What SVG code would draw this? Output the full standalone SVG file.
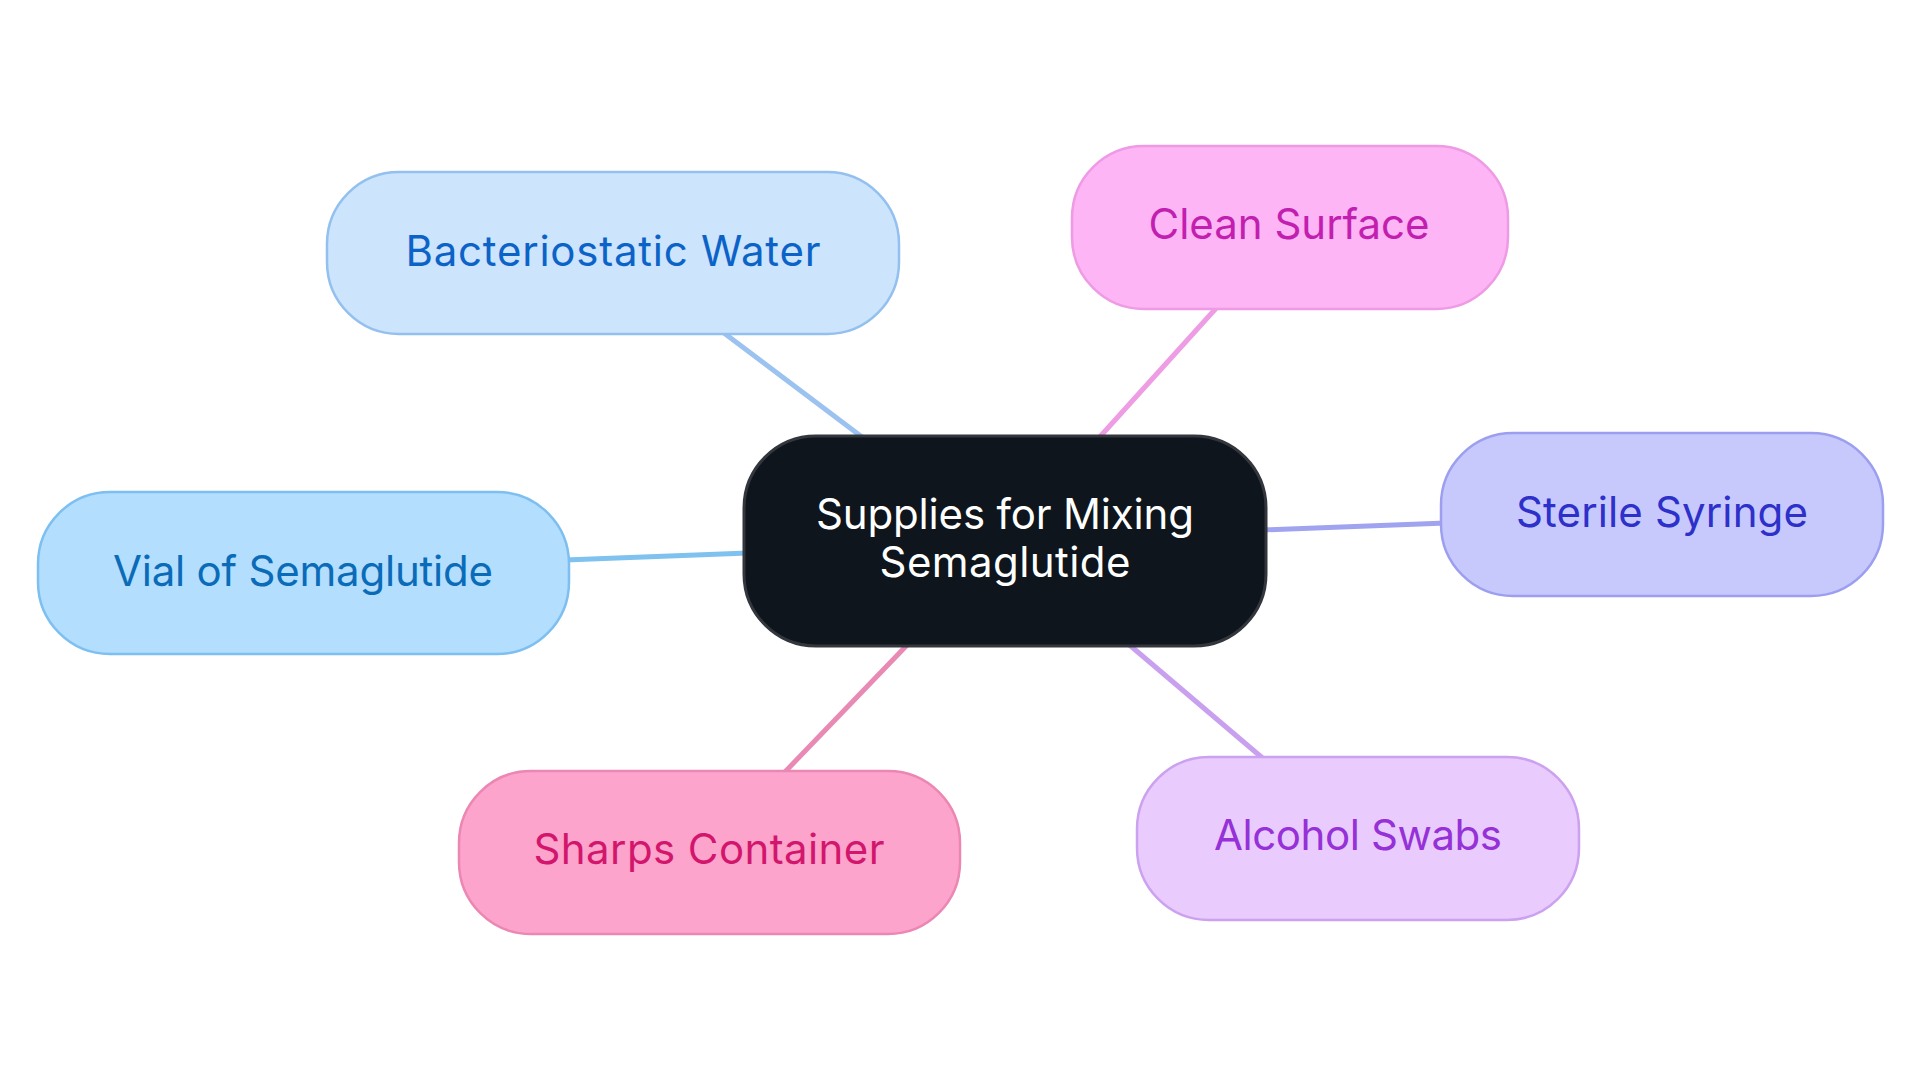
<svg xmlns="http://www.w3.org/2000/svg" width="1920" height="1083" viewBox="0 0 1920 1083">
<style>
.lbl{font-family:Inter,"Noto Sans","Liberation Sans",sans-serif;font-size:42px;text-anchor:middle}
.edge{stroke-width:5;fill:none;stroke-linecap:round}
.node{stroke-width:2.5}
</style>
<rect width="1920" height="1083" fill="#ffffff"/>
<g id="connectors">
<line class="edge" x1="720" y1="330" x2="866" y2="440" stroke="#9cc3ef"/>
<line class="edge" x1="1219" y1="305" x2="1097" y2="440" stroke="#ee9de4"/>
<line class="edge" x1="1262" y1="530" x2="1446" y2="523" stroke="#a0a3ef"/>
<line class="edge" x1="565" y1="560" x2="748" y2="553" stroke="#7fc1ef"/>
<line class="edge" x1="782" y1="775" x2="910" y2="642" stroke="#e98ab4"/>
<line class="edge" x1="1266" y1="761" x2="1126" y2="642" stroke="#c9a0ef"/>
</g>
<g id="node-center">
<rect x="744" y="436" width="522" height="210" rx="72" fill="#0e151c" stroke="#33373d" stroke-width="3"/>
<text class="lbl" x="1005" y="529" fill="#ffffff" textLength="378" lengthAdjust="spacing">Supplies for Mixing</text>
<text class="lbl" x="1005" y="577" fill="#ffffff" textLength="251" lengthAdjust="spacing">Semaglutide</text>
</g>
<g id="node-bacteriostatic-water">
<rect class="node" x="327" y="172" width="572" height="162" rx="72" fill="#cce4fc" stroke="#93c0ef"/>
<text class="lbl" x="613" y="266" fill="#0c63c7" textLength="415" lengthAdjust="spacing">Bacteriostatic Water</text>
</g>
<g id="node-clean-surface">
<rect class="node" x="1072" y="146" width="436" height="163" rx="72" fill="#fdb5f5" stroke="#ef9ae4"/>
<text class="lbl" x="1289" y="239" fill="#c21fb1" textLength="281" lengthAdjust="spacing">Clean Surface</text>
</g>
<g id="node-sterile-syringe">
<rect class="node" x="1441" y="433" width="442" height="163" rx="72" fill="#c7c9fd" stroke="#9c9ff0"/>
<text class="lbl" x="1662" y="527" fill="#2d30c9" textLength="292" lengthAdjust="spacing">Sterile Syringe</text>
</g>
<g id="node-vial">
<rect class="node" x="38" y="492" width="531" height="162" rx="72" fill="#b3defd" stroke="#7dbff0"/>
<text class="lbl" x="303" y="586" fill="#0a6cb8" textLength="380" lengthAdjust="spacing">Vial of Semaglutide</text>
</g>
<g id="node-sharps-container">
<rect class="node" x="459" y="771" width="501" height="163" rx="72" fill="#fda4cc" stroke="#ec86b3"/>
<text class="lbl" x="709" y="864" fill="#d3166d" textLength="351" lengthAdjust="spacing">Sharps Container</text>
</g>
<g id="node-alcohol-swabs">
<rect class="node" x="1137" y="757" width="442" height="163" rx="72" fill="#e9cbfd" stroke="#cca1f0"/>
<text class="lbl" x="1358" y="850" fill="#9531d6" textLength="288" lengthAdjust="spacing">Alcohol Swabs</text>
</g>
</svg>
